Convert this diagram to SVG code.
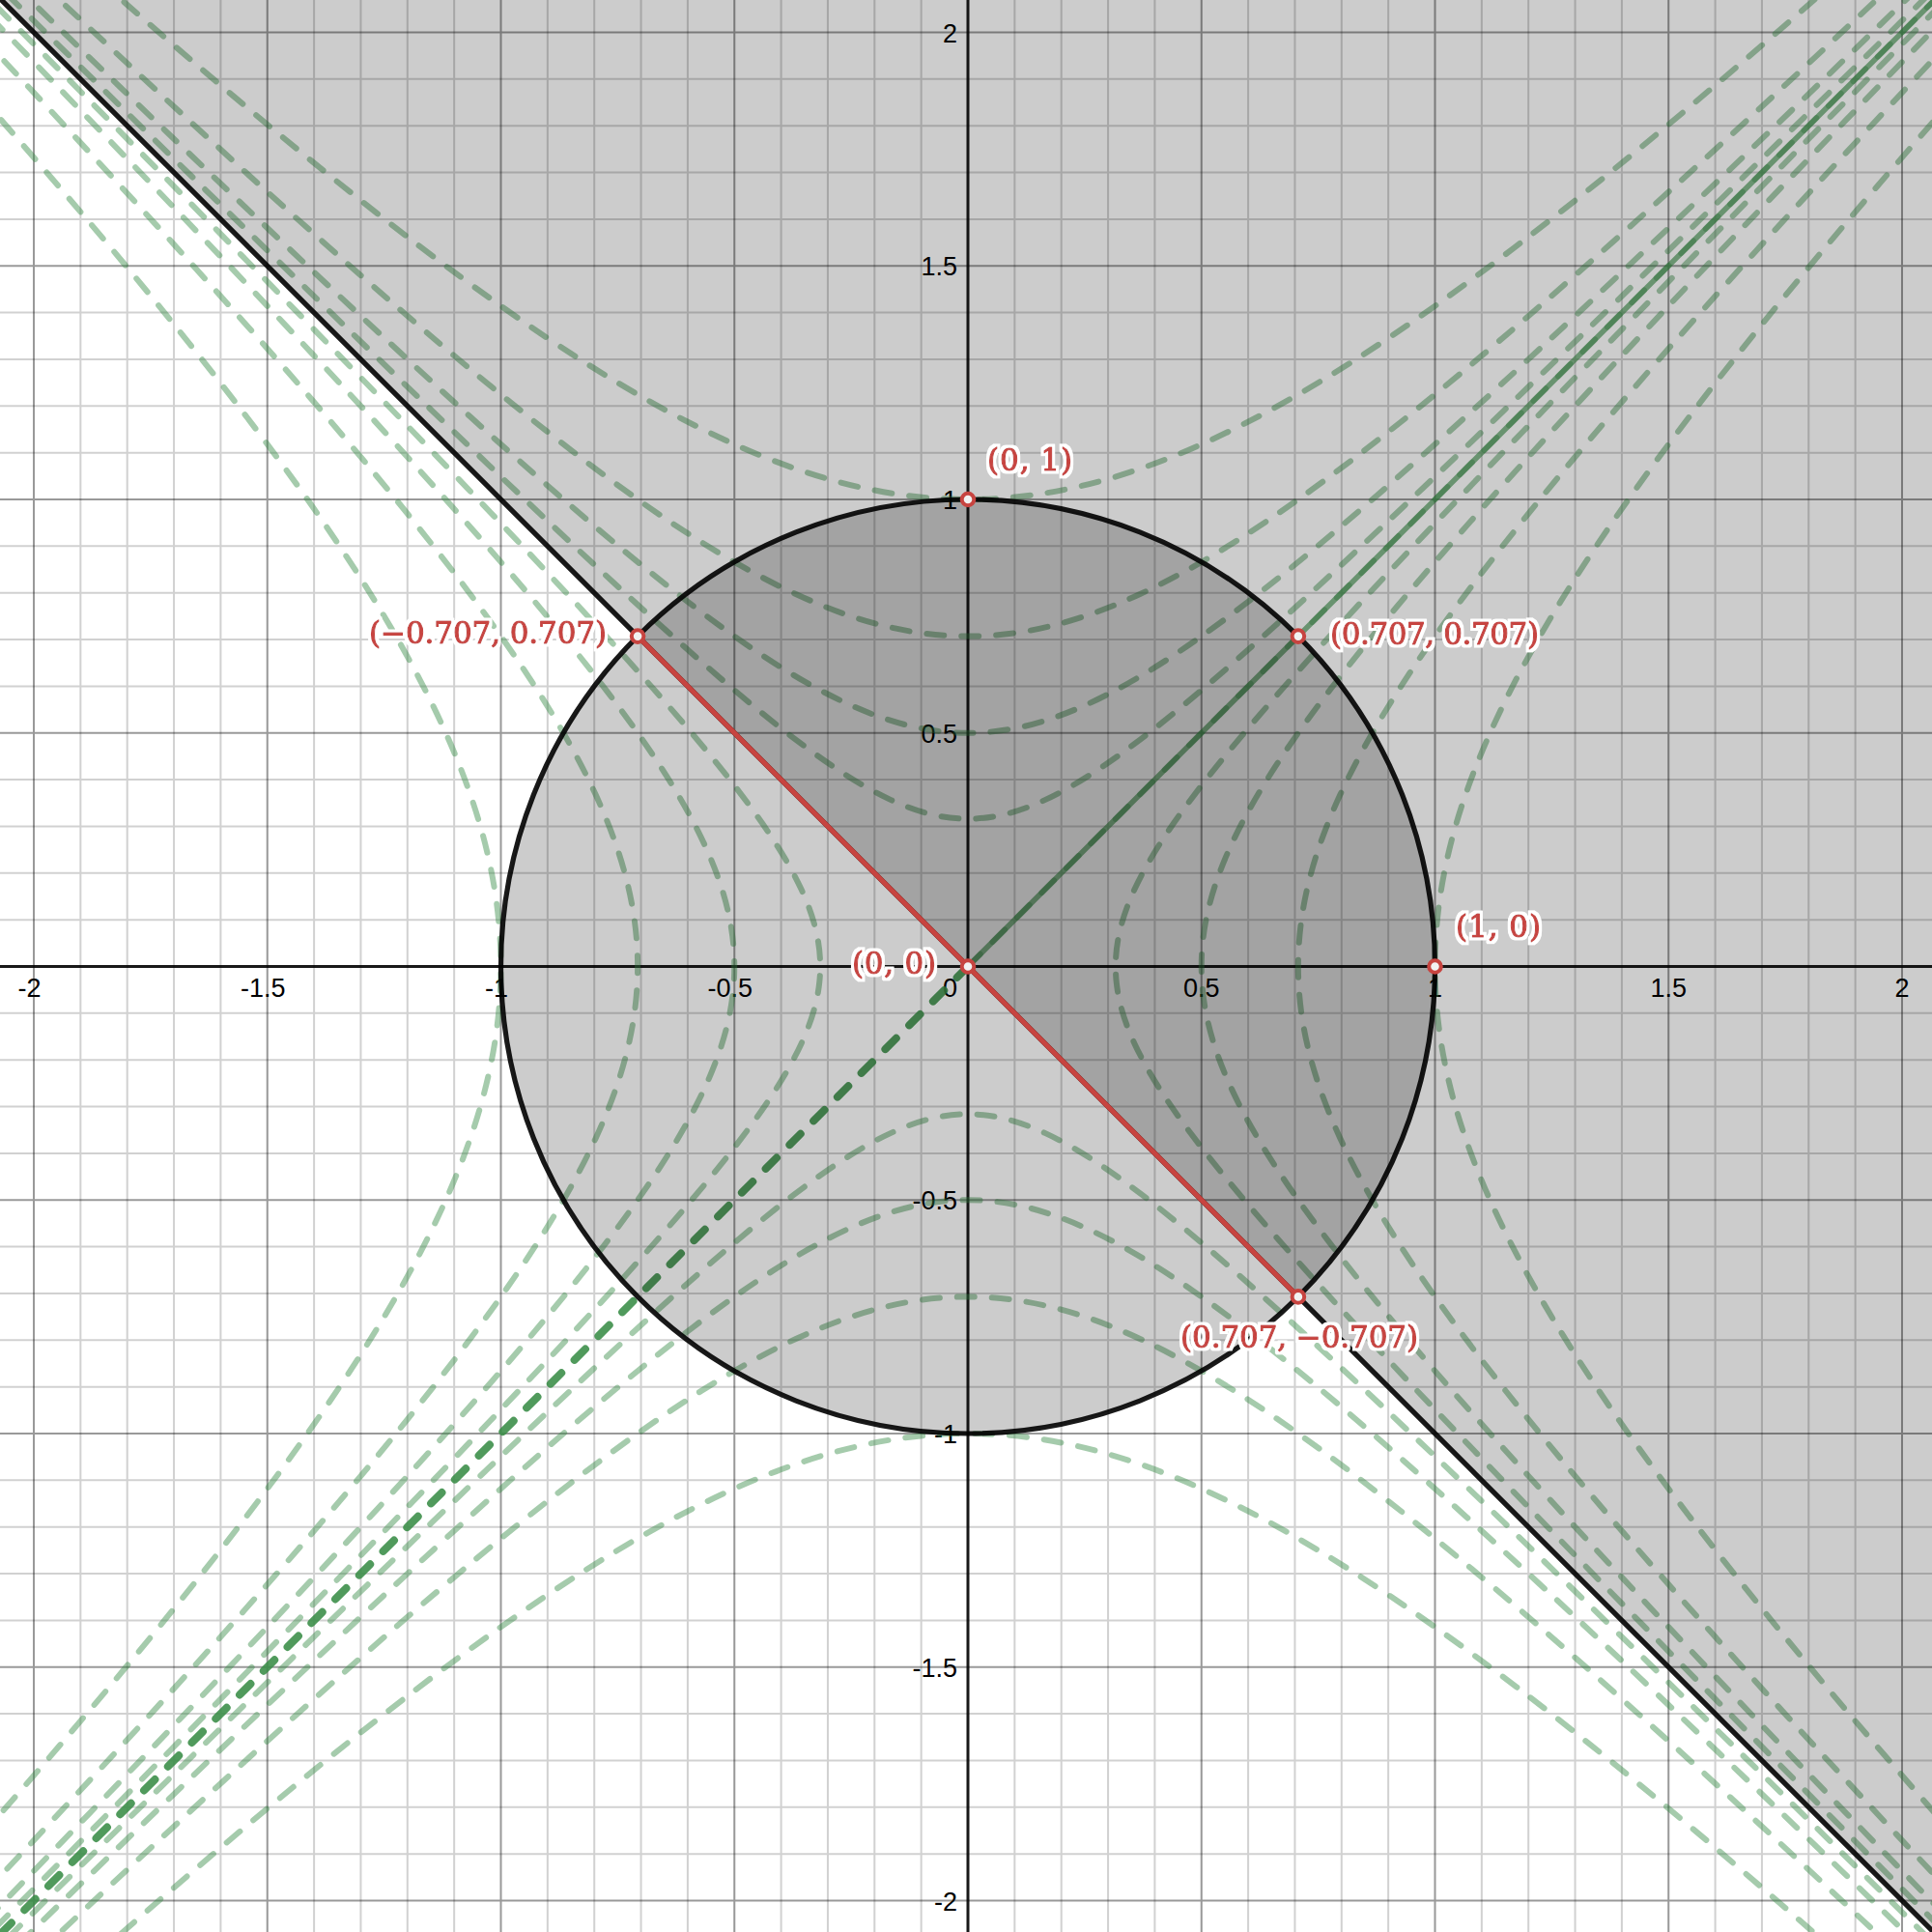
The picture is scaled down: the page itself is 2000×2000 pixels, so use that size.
<svg xmlns="http://www.w3.org/2000/svg" width="2000" height="2000" viewBox="0 0 2000 2000">
<style>
.minor{fill:none;stroke:#000;stroke-opacity:.18;stroke-width:.0042}
.major{fill:none;stroke:#000;stroke-opacity:.4;stroke-width:.0042}
.axis{fill:none;stroke:#000;stroke-opacity:.9;stroke-width:.0062}
.g{fill:none;stroke:#388c46;stroke-opacity:.45;stroke-linecap:round}
.a1{stroke-width:.01241;stroke-dasharray:.03723 .03723}
.a2{stroke-width:.01755;stroke-dasharray:.05265 .05265}
.a3{stroke-width:.02482;stroke-dasharray:.07446 .07446}
.a4{stroke-width:.03925;stroke-dasharray:.11774 .11774}
.blk{fill:none;stroke:#000;stroke-opacity:.9;stroke-width:.0108}
.ax{font-family:"Liberation Sans",Arial,sans-serif;font-size:27px;fill:#000}
.lbl{font-family:"DejaVu Serif","Liberation Serif",serif;font-size:31px;fill:#c74440;stroke:#c74440;stroke-width:1.1;stroke-linejoin:round;filter:url(#halo)}
.pt{fill:#f2f2f2;stroke:#c74440;stroke-width:4}
</style>
<defs>
<filter id="halo" x="-10%" y="-40%" width="120%" height="180%">
<feMorphology in="SourceAlpha" operator="dilate" radius="3" result="d"/>
<feFlood flood-color="#fff"/>
<feComposite in2="d" operator="in" result="w"/>
<feMerge><feMergeNode in="w"/><feMergeNode in="SourceGraphic"/></feMerge>
</filter>
<path id="hyp" d="M-10.0179 10.0677C-8.3399 8.3980 -7.0723 7.1407 -6.0502 6.1323C-5.0281 5.1239 -4.2539 4.3667 -3.6269 3.7622C-2.9999 3.1577 -2.5214 2.7073 -2.1293 2.3524C-1.7372 1.9975 -1.4324 1.7390 -1.1752 1.5431C-0.9180 1.3472 -0.7090 1.2145 -0.5211 1.1276C-0.3332 1.0407 -0.1667 1 0 1C0.1667 1 0.3332 1.0407 0.5211 1.1276C0.7090 1.2145 0.9180 1.3472 1.1752 1.5431C1.4324 1.7390 1.7372 1.9975 2.1293 2.3524C2.5214 2.7073 2.9999 3.1577 3.6269 3.7622C4.2539 4.3667 5.0281 5.1239 6.0502 6.1323C7.0723 7.1407 8.3399 8.3980 10.0179 10.0677"/>
</defs>
<rect width="2000" height="2000" fill="#fff"/>
<g id="grid" transform="translate(1002 1000.5) scale(483.5 -483.5)">
<path class="minor" d="M-1.9 -2.2V2.2M-1.8 -2.2V2.2M-1.7 -2.2V2.2M-1.6 -2.2V2.2M-1.4 -2.2V2.2M-1.3 -2.2V2.2M-1.2 -2.2V2.2M-1.1 -2.2V2.2M-0.9 -2.2V2.2M-0.8 -2.2V2.2M-0.7 -2.2V2.2M-0.6 -2.2V2.2M-0.4 -2.2V2.2M-0.3 -2.2V2.2M-0.2 -2.2V2.2M-0.1 -2.2V2.2M0.1 -2.2V2.2M0.2 -2.2V2.2M0.3 -2.2V2.2M0.4 -2.2V2.2M0.6 -2.2V2.2M0.7 -2.2V2.2M0.8 -2.2V2.2M0.9 -2.2V2.2M1.1 -2.2V2.2M1.2 -2.2V2.2M1.3 -2.2V2.2M1.4 -2.2V2.2M1.6 -2.2V2.2M1.7 -2.2V2.2M1.8 -2.2V2.2M1.9 -2.2V2.2M-2.2 -1.9H2.2M-2.2 -1.8H2.2M-2.2 -1.7H2.2M-2.2 -1.6H2.2M-2.2 -1.4H2.2M-2.2 -1.3H2.2M-2.2 -1.2H2.2M-2.2 -1.1H2.2M-2.2 -0.9H2.2M-2.2 -0.8H2.2M-2.2 -0.7H2.2M-2.2 -0.6H2.2M-2.2 -0.4H2.2M-2.2 -0.3H2.2M-2.2 -0.2H2.2M-2.2 -0.1H2.2M-2.2 0.1H2.2M-2.2 0.2H2.2M-2.2 0.3H2.2M-2.2 0.4H2.2M-2.2 0.6H2.2M-2.2 0.7H2.2M-2.2 0.8H2.2M-2.2 0.9H2.2M-2.2 1.1H2.2M-2.2 1.2H2.2M-2.2 1.3H2.2M-2.2 1.4H2.2M-2.2 1.6H2.2M-2.2 1.7H2.2M-2.2 1.8H2.2M-2.2 1.9H2.2"/>
<path class="major" d="M-2 -2.2V2.2M-1.5 -2.2V2.2M-1 -2.2V2.2M-0.5 -2.2V2.2M0.5 -2.2V2.2M1 -2.2V2.2M1.5 -2.2V2.2M2 -2.2V2.2M-2.2 -2H2.2M-2.2 -1.5H2.2M-2.2 -1H2.2M-2.2 -0.5H2.2M-2.2 0.5H2.2M-2.2 1H2.2M-2.2 1.5H2.2M-2.2 2H2.2"/>
<path class="axis" d="M-2.2 0H2.2M0 -2.2V2.2"/>
</g>
<g id="axis-labels" class="ax">
<text x="42.5" y="1032" text-anchor="end">-2</text>
<text x="295.5" y="1032" text-anchor="end">-1.5</text>
<text x="526" y="1032" text-anchor="end">-1</text>
<text x="779" y="1032" text-anchor="end">-0.5</text>
<text x="991" y="1032" text-anchor="end">0</text>
<text x="1243.75" y="1032" text-anchor="middle">0.5</text>
<text x="1485.5" y="1032" text-anchor="middle">1</text>
<text x="1727.25" y="1032" text-anchor="middle">1.5</text>
<text x="1969" y="1032" text-anchor="middle">2</text>
<text x="991" y="43.5" text-anchor="end">2</text>
<text x="991" y="285.25" text-anchor="end">1.5</text>
<text x="991" y="527" text-anchor="end">1</text>
<text x="991" y="768.75" text-anchor="end">0.5</text>
<text x="991" y="1252.25" text-anchor="end">-0.5</text>
<text x="991" y="1494" text-anchor="end">-1</text>
<text x="991" y="1735.75" text-anchor="end">-1.5</text>
<text x="991" y="1977.5" text-anchor="end">-2</text>
</g>
<g id="curves" transform="translate(1002 1000.5) scale(483.5 -483.5)">
<g id="hyperbolas">
<use href="#hyp" class="g a1" transform="rotate(0)"/>
<use href="#hyp" class="g a1" transform="rotate(90)"/>
<use href="#hyp" class="g a1" transform="rotate(180)"/>
<use href="#hyp" class="g a1" transform="rotate(270)"/>
<use href="#hyp" class="g a2" transform="rotate(0) scale(0.7071)"/>
<use href="#hyp" class="g a2" transform="rotate(90) scale(0.7071)"/>
<use href="#hyp" class="g a2" transform="rotate(180) scale(0.7071)"/>
<use href="#hyp" class="g a2" transform="rotate(270) scale(0.7071)"/>
<use href="#hyp" class="g a3" transform="rotate(0) scale(0.5)"/>
<use href="#hyp" class="g a3" transform="rotate(90) scale(0.5)"/>
<use href="#hyp" class="g a3" transform="rotate(180) scale(0.5)"/>
<use href="#hyp" class="g a3" transform="rotate(270) scale(0.5)"/>
<use href="#hyp" class="g a4" transform="rotate(0) scale(0.3162)"/>
<use href="#hyp" class="g a4" transform="rotate(90) scale(0.3162)"/>
<use href="#hyp" class="g a4" transform="rotate(180) scale(0.3162)"/>
<use href="#hyp" class="g a4" transform="rotate(270) scale(0.3162)"/>
</g>
<g id="diag">
<line x1="0" y1="0" x2="2.2" y2="2.2" fill="none" stroke="#388c46" stroke-opacity=".62" stroke-width=".0114"/>
<line x1="0" y1="0" x2="2.2" y2="2.2" fill="none" stroke="#388c46" stroke-opacity=".4" stroke-width=".0124" stroke-dasharray=".03723 .03723" stroke-linecap="round"/>
<line x1="0" y1="0" x2="-2.2" y2="-2.2" fill="none" stroke="#388c46" stroke-opacity=".88" stroke-width=".01655" stroke-dasharray=".0331 .0393" stroke-linecap="round"/>
</g>
</g>
<g id="shading" transform="translate(1002 1000.5) scale(483.5 -483.5)">
<polygon points="-3,3 3,3 3,-3" fill="#000" fill-opacity=".2"/>
<circle cx="0" cy="0" r="1" fill="#000" fill-opacity=".2"/>
</g>
<g id="boundaries" transform="translate(1002 1000.5) scale(483.5 -483.5)">
<line id="boundary" class="blk" x1="-3" y1="3" x2="3" y2="-3"/>
<circle id="unit-circle" class="blk" cx="0" cy="0" r="1"/>
<line id="chord" x1="-0.7071" y1="0.7071" x2="0.7071" y2="-0.7071" stroke="#c74440" stroke-width=".0108" stroke-linecap="round"/>
</g>
<g id="points">
<circle id="p01" class="pt" cx="1002" cy="517" r="6.3"/>
<circle id="pA" class="pt" cx="1343.9" cy="658.6" r="6.3"/>
<circle id="pB" class="pt" cx="660.1" cy="658.6" r="6.3"/>
<circle id="p10" class="pt" cx="1485.5" cy="1000.5" r="6.3"/>
<circle id="pC" class="pt" cx="1343.9" cy="1342.4" r="6.3"/>
<circle id="p00" class="pt" cx="1002" cy="1000.5" r="6.3"/>
</g>
<g id="point-labels">
<text class="lbl" x="1022" y="487" textLength="88" lengthAdjust="spacing">(0, 1)</text>
<text class="lbl" x="382" y="666" textLength="246" lengthAdjust="spacing">(−0.707, 0.707)</text>
<text class="lbl" x="1377" y="667" textLength="216" lengthAdjust="spacing">(0.707, 0.707)</text>
<text class="lbl" x="1507" y="970" textLength="88" lengthAdjust="spacing">(1, 0)</text>
<text class="lbl" x="1222" y="1395" textLength="246" lengthAdjust="spacing">(0.707, −0.707)</text>
<text class="lbl" x="882" y="1008" textLength="87" lengthAdjust="spacing">(0, 0)</text>
</g>
</svg>
